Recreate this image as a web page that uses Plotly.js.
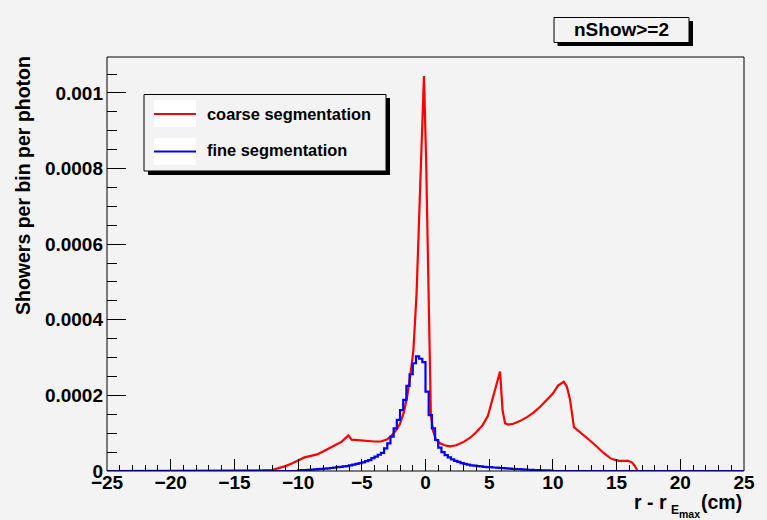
<!DOCTYPE html>
<html>
<head>
<meta charset="utf-8">
<script src="https://cdn.plot.ly/plotly-3.0.1.min.js"></script>
<style>
html,body{margin:0;padding:0;background:#f3f3f3;}
#chart{width:767px;height:520px;}
</style>
</head>
<body>
<div id="chart"></div>
<script>
// ---- data ----
const coarseX = [-25, -16.5, -15, -14, -13, -12, -11.5, -11, -10.5, -10, -9.5, -9, -8.5, -8, -7.5, -7, -6.6, -6.3, -6.05, -5.8, -5.5, -5.1, -4.5, -4, -3.5, -3, -2.6, -2.3, -2.0, -1.7, -1.45, -1.2, -0.95, -0.7, -0.45, -0.25, -0.12, 0.05, 0.2, 0.3, 0.42, 0.6, 0.8, 1.1, 1.5, 1.9, 2.4, 3.0, 3.5, 4.0, 4.5, 4.9, 5.3, 5.55, 5.85, 6.05, 6.25, 6.5, 6.9, 7.4, 8.0, 8.5, 9.0, 9.5, 10.0, 10.4, 10.85, 11.1, 11.35, 11.65, 12.1, 12.6, 13.0, 13.5, 14.0, 14.5, 14.8, 15.2, 15.6, 15.9, 16.2, 16.4, 16.65, 25];
const coarseY = [0, 0.0000005, 0.000001, 0.0000015, 0.000002, 0.000003, 0.000007, 0.000013, 0.00002, 0.000029, 0.000036, 0.00004, 0.000044, 0.000052, 0.00006, 0.00007, 0.000077, 0.000086, 0.000094, 0.000083, 0.000082, 0.000081, 0.000079, 0.000078, 0.000078, 0.000084, 0.000096, 0.000108, 0.000125, 0.000155, 0.000195, 0.00025, 0.00032, 0.00047, 0.00072, 0.00092, 0.001045, 0.00082, 0.00052, 0.00028, 0.00015, 0.000105, 0.000085, 0.000074, 0.000068, 0.000065, 0.000068, 0.000077, 0.000088, 0.000103, 0.000122, 0.000146, 0.0002, 0.000226, 0.000263, 0.00016, 0.000126, 0.000123, 0.000125, 0.000132, 0.000143, 0.000155, 0.00017, 0.000187, 0.000205, 0.000226, 0.000236, 0.000223, 0.000188, 0.000116, 0.000104, 0.000091, 0.000078, 0.000063, 0.000047, 0.000034, 0.00003, 0.000027, 0.000026, 0.000027, 0.000023, 0.000015, 0, 0];

// fine segmentation: histogram, bins of 0.25 cm starting at -10 cm (zero outside)
const fineBinStart = -10;
const fineBinWidth = 0.25;
const fineVals = [
 2.0e-6, 2.3e-6, 2.7e-6, 3.1e-6, 3.6e-6, 4.2e-6, 4.8e-6, 5.5e-6, 6.2e-6, 7.0e-6,
 8.0e-6, 9.0e-6, 10e-6, 11e-6, 12e-6, 13e-6, 15e-6, 17e-6, 19e-6, 21e-6,
 23e-6, 26e-6, 29e-6, 34e-6, 38e-6, 43e-6, 48e-6, 60e-6, 73e-6, 91e-6,
 113e-6, 135e-6, 161e-6, 188e-6, 225e-6, 256e-6, 285e-6, 303e-6, 297e-6, 288e-6,
 210e-6, 148e-6, 113e-6, 82e-6, 62e-6, 50e-6, 42e-6, 36e-6, 31e-6, 27e-6,
 24e-6, 21e-6, 19e-6, 17e-6, 15e-6, 14e-6, 13e-6, 12e-6, 11e-6, 10.5e-6,
 10e-6, 9.3e-6, 8.7e-6, 8.0e-6, 7.5e-6, 7.0e-6, 6.4e-6, 5.8e-6, 5.2e-6, 4.7e-6,
 4.2e-6, 3.7e-6, 3.3e-6, 2.9e-6, 2.5e-6, 2.2e-6, 1.9e-6, 1.6e-6, 1.4e-6, 1.2e-6
];

const yTickVals = [0, 0.0002, 0.0004, 0.0006, 0.0008, 0.001];
const yTickText = ['0', '0.0002', '0.0004', '0.0006', '0.0008', '0.001'];
const legendLabels = ['coarse segmentation', 'fine segmentation'];
const seriesColors = ['#ff0000', '#0000ff'];
const boxTitle = 'nShow>=2';

// ---- build histogram step trace ----
const fx = [-25], fy = [0];
fineVals.forEach((v, k) => { fx.push(fineBinStart + k * fineBinWidth); fy.push(v); });
fx.push(fineBinStart + fineVals.length * fineBinWidth); fy.push(0);
fx.push(25); fy.push(0);

// ---- layout geometry (pixels -> paper) ----
const W = 767, H = 520;
const L = 107, R = 744, T = 57, B = 471;
const X = px => (px - L) / (R - L);
const Y = py => (B - py) / (B - T);
const FONT = '"Liberation Sans", Arial, Helvetica, sans-serif';

const traces = [
  {x: coarseX, y: coarseY, type: 'scatter', mode: 'lines', name: legendLabels[0],
   line: {color: seriesColors[0], width: 2.2}, showlegend: false},
  {x: fx, y: fy, type: 'scatter', mode: 'lines', name: legendLabels[1],
   line: {color: seriesColors[1], width: 2.2, shape: 'hv'}, showlegend: false}
];

function rect(x0, y0, x1, y1, fill, line) {
  return {type: 'rect', xref: 'paper', yref: 'paper', x0: X(x0), x1: X(x1), y0: Y(y1), y1: Y(y0),
          fillcolor: fill, line: line || {width: 0}, layer: 'above'};
}
function hline(x0, x1, py, color) {
  return {type: 'line', xref: 'paper', yref: 'paper', x0: X(x0), x1: X(x1), y0: Y(py), y1: Y(py),
          line: {color: color, width: 2}, layer: 'above'};
}

const shapes = [
  {type: 'rect', xref: 'paper', yref: 'paper', x0: 0, x1: 1, y0: 0, y1: 1,
   line: {color: 'black', width: 1}, fillcolor: 'rgba(0,0,0,0)', layer: 'above'},
  // title box
  rect(557.5, 21, 693, 46, 'black'),
  rect(554, 17.5, 689, 42.5, '#f3f3f3', {color: 'black', width: 1}),
  // legend box
  rect(148, 98, 390, 175, 'black'),
  rect(144, 94.5, 386, 171, '#f3f3f3', {color: 'black', width: 1}),
  rect(154, 100, 196, 127, 'white'),
  rect(154, 138, 196, 165, 'white'),
  hline(154, 196, 114, seriesColors[0]),
  hline(154, 196, 151.5, seriesColors[1])
];

const annotations = [
  {xref: 'paper', yref: 'paper', x: X(621.5), y: Y(30), text: boxTitle, showarrow: false,
   xanchor: 'center', yanchor: 'middle', font: {family: FONT, size: 19, color: 'black', weight: 'bold'}},
  {xref: 'paper', yref: 'paper', x: X(205), y: Y(113.5), text: legendLabels[0], showarrow: false,
   xanchor: 'left', yanchor: 'middle', font: {family: FONT, size: 16.4, color: 'black', weight: 'bold'}},
  {xref: 'paper', yref: 'paper', x: X(205), y: Y(149.5), text: legendLabels[1], showarrow: false,
   xanchor: 'left', yanchor: 'middle', font: {family: FONT, size: 16.4, color: 'black', weight: 'bold'}},
  // y title
  {xref: 'paper', yref: 'paper', x: X(23), y: Y(186), text: 'Showers per bin per photon', showarrow: false,
   textangle: -90, xanchor: 'center', yanchor: 'middle', font: {family: FONT, size: 19.5, color: 'black', weight: 'bold'}},
  // x title pieces
  {xref: 'paper', yref: 'paper', x: X(669), y: Y(502), text: 'r - r', showarrow: false,
   xanchor: 'right', yanchor: 'middle', font: {family: FONT, size: 19.5, color: 'black', weight: 'bold'}},
  {xref: 'paper', yref: 'paper', x: X(669), y: Y(510), text: 'E', showarrow: false,
   xanchor: 'left', yanchor: 'middle', font: {family: FONT, size: 12, color: 'black', weight: 'bold'}},
  {xref: 'paper', yref: 'paper', x: X(677), y: Y(513.5), text: 'max', showarrow: false,
   xanchor: 'left', yanchor: 'middle', font: {family: FONT, size: 10.5, color: 'black', weight: 'bold'}},
  {xref: 'paper', yref: 'paper', x: X(744), y: Y(502), text: '(cm)', showarrow: false,
   xanchor: 'right', yanchor: 'middle', font: {family: FONT, size: 19.5, color: 'black', weight: 'bold'}}
];

const layout = {
  width: W, height: H,
  margin: {l: L, r: W - R, t: T, b: H - B, pad: 0},
  paper_bgcolor: '#f3f3f3', plot_bgcolor: '#f3f3f3',
  showlegend: false,
  xaxis: {
    range: [-25, 25], tick0: -25, dtick: 5, ticks: 'inside', ticklen: 12, tickwidth: 1, tickcolor: 'black',
    showgrid: false, zeroline: false, showline: false, ticklabelstandoff: -2,
    tickfont: {family: FONT, size: 19, color: 'black', weight: 'bold'},
    minor: {dtick: 1, tick0: -25, ticks: 'inside', ticklen: 6, tickwidth: 1, tickcolor: 'black', showgrid: false}
  },
  yaxis: {
    range: [0, 0.0010952], tickmode: 'array', tickvals: yTickVals, ticktext: yTickText,
    ticks: 'inside', ticklen: 19, tickwidth: 1, tickcolor: 'black',
    showgrid: false, zeroline: false, showline: false, ticklabelstandoff: 3,
    tickfont: {family: FONT, size: 19, color: 'black', weight: 'bold'},
    minor: {dtick: 0.00005, tick0: 0, ticks: 'inside', ticklen: 9.5, tickwidth: 1, tickcolor: 'black', showgrid: false}
  },
  shapes: shapes,
  annotations: annotations
};

Plotly.newPlot('chart', traces, layout, {displayModeBar: false, staticPlot: true});
</script>
</body>
</html>
